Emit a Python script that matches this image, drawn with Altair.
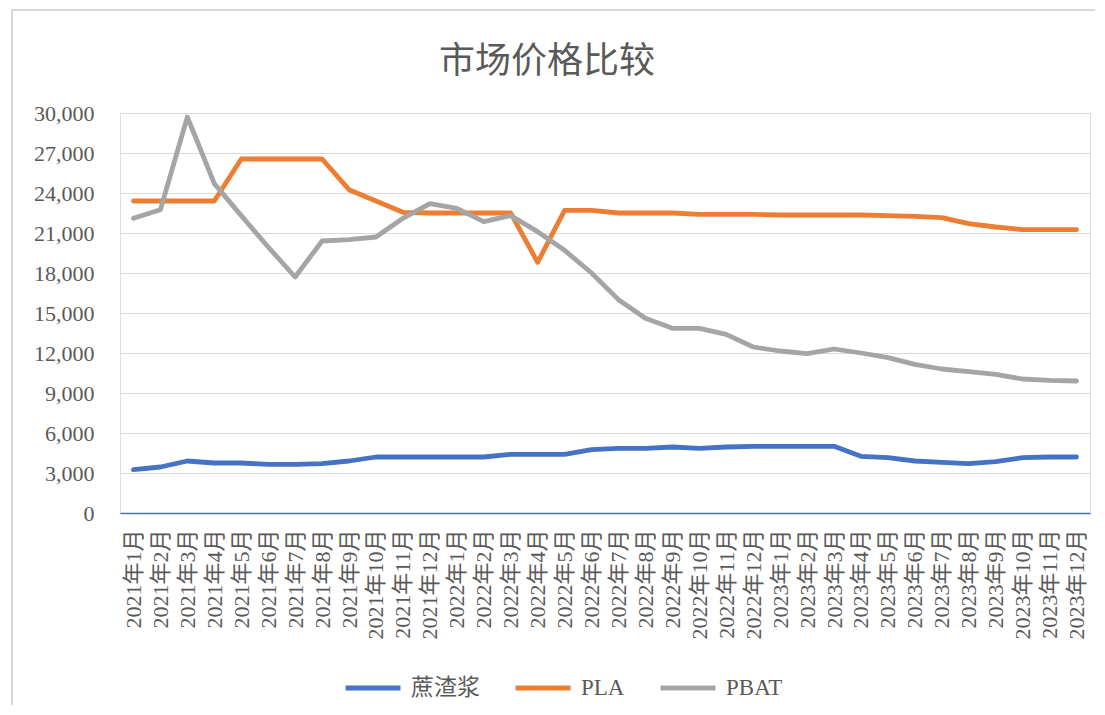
import altair as alt
import pandas as pd

months = [
    "2021年1月", "2021年2月", "2021年3月", "2021年4月", "2021年5月", "2021年6月",
    "2021年7月", "2021年8月", "2021年9月", "2021年10月", "2021年11月", "2021年12月",
    "2022年1月", "2022年2月", "2022年3月", "2022年4月", "2022年5月", "2022年6月",
    "2022年7月", "2022年8月", "2022年9月", "2022年10月", "2022年11月", "2022年12月",
    "2023年1月", "2023年2月", "2023年3月", "2023年4月", "2023年5月", "2023年6月",
    "2023年7月", "2023年8月", "2023年9月", "2023年10月", "2023年11月", "2023年12月",
]

bagasse = [3250, 3450, 3900, 3750, 3750, 3650, 3650, 3700, 3900, 4200, 4200, 4200,
           4200, 4200, 4400, 4400, 4400, 4750, 4850, 4850, 4950, 4850, 4950, 5000,
           5000, 5000, 5000, 4250, 4150, 3900, 3800, 3700, 3850, 4150, 4200, 4200]

pla = [23400, 23400, 23400, 23400, 26550, 26550, 26550, 26550, 24250, 23400, 22550, 22500,
       22500, 22500, 22500, 18800, 22700, 22700, 22500, 22500, 22500, 22400, 22400, 22400,
       22350, 22350, 22350, 22350, 22300, 22250, 22150, 21700, 21450, 21250, 21250, 21250]

pbat = [22100, 22750, 29700, 24700, 22300, 19950, 17700, 20400, 20500, 20700, 22100, 23200,
        22850, 21850, 22300, 21100, 19700, 18000, 16000, 14600, 13850, 13850, 13400, 12450,
        12150, 11950, 12300, 12000, 11650, 11150, 10800, 10600, 10400, 10050, 9950, 9900]

series_names = ["蔗渣浆", "PLA", "PBAT"]
series_colors = ["#4472C4", "#ED7D31", "#A5A5A5"]
y_ticks = [0, 3000, 6000, 9000, 12000, 15000, 18000, 21000, 24000, 27000, 30000]

rows = []
for name, vals in zip(series_names, [bagasse, pla, pbat]):
    for m, v in zip(months, vals):
        rows.append({"month": m, "series": name, "value": v})
df = pd.DataFrame(rows)

SERIF = "'Liberation Serif', 'Noto Sans CJK SC'"
TXT = "#595959"

lines = alt.Chart(df).mark_line(strokeWidth=4.8, strokeCap="round", strokeJoin="round").encode(
    x=alt.X("month:O", sort=months,
            axis=alt.Axis(title=None, labelAngle=270, labelFont=SERIF, labelFontSize=22,
                          labelColor=TXT, labelPadding=16, ticks=False, grid=False,
                          domainColor="#4472C4", domainWidth=1.5, labelOverlap=False,
                          labelLimit=300)),
    y=alt.Y("value:Q", scale=alt.Scale(domain=[0, 30000], nice=False),
            axis=alt.Axis(title=None, values=y_ticks, format=",.0f", labelFont=SERIF,
                          labelFontSize=22, labelColor=TXT, labelPadding=26, ticks=False,
                          domain=False, gridColor="#D9D9D9", gridWidth=1)),
    color=alt.Color("series:N",
                    scale=alt.Scale(domain=series_names, range=series_colors),
                    legend=alt.Legend(title=None, orient="none", legendX=223, legendY=545,
                                      direction="horizontal", symbolType="stroke",
                                      symbolSize=3025, symbolStrokeWidth=5,
                                      labelFont=SERIF, labelFontSize=23, labelColor=TXT,
                                      columnPadding=25, labelOffset=8)),
    order=alt.Order("series:N"),
)

frame_top = alt.Chart(df).mark_rule(color="#D6D6D6", strokeWidth=2).encode(
    x=alt.value(-108), x2=alt.value(990), y=alt.value(-103))
frame_left = alt.Chart(df).mark_rule(color="#D6D6D6", strokeWidth=2).encode(
    x=alt.value(-108), y=alt.value(-103), y2=alt.value(600))

chart = alt.layer(lines, frame_top, frame_left).properties(
    width=970, height=400,
    padding={"left": 112, "top": 105, "right": 5, "bottom": 192},
    autosize=alt.AutoSizeParams(type="none"),
    title=alt.TitleParams(text="市场价格比较", font="Noto Sans CJK SC", fontSize=36,
                          fontWeight="normal", color=TXT, anchor="middle", dx=-58,
                          offset=0, dy=72),
).configure_view(stroke=None).configure(background="white")

chart.save("out.html", embed_options={"renderer": "svg", "actions": False})
